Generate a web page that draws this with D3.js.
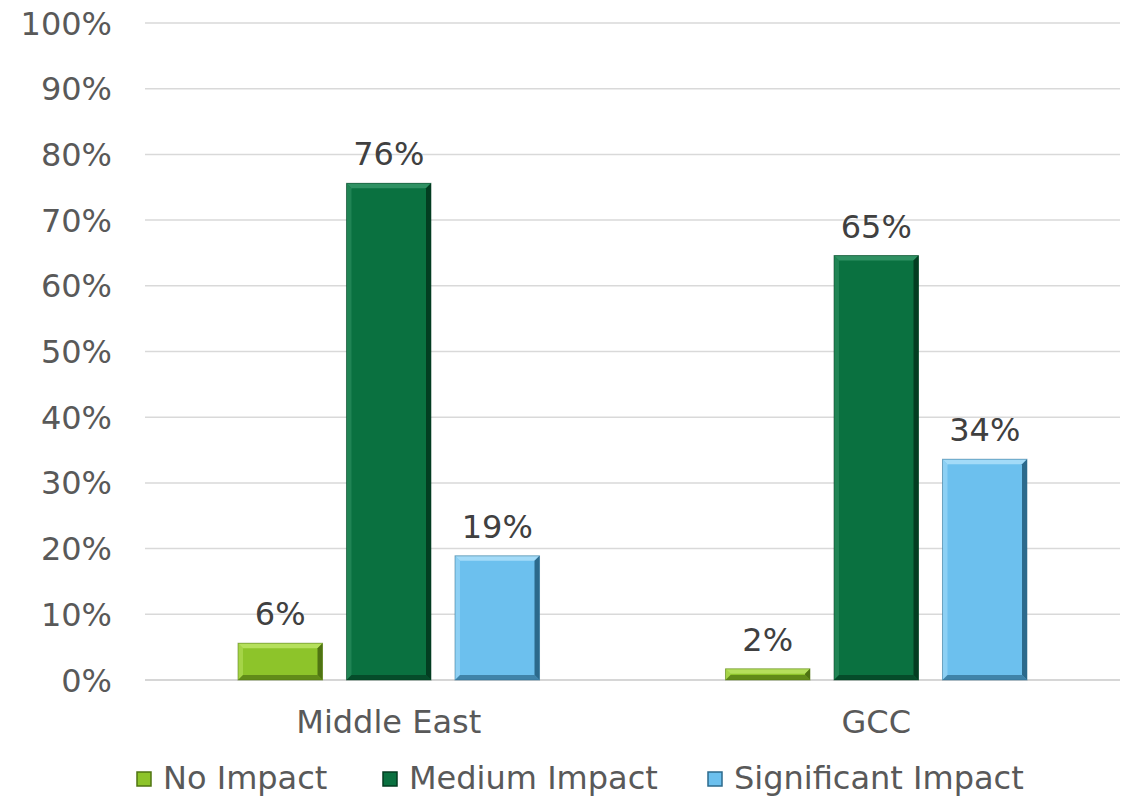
<!DOCTYPE html>
<html lang="en">
<head>
    <meta charset="UTF-8">
    <title>Impact by Region</title>
    <style>
        body {
            margin: 0;
            background-color: white;
        }
        svg {
            display: block;
            font-family: "DejaVu Sans", Verdana, sans-serif;
        }
    </style>
</head>
<body>
    <svg width="1132" height="797"></svg>
    <script src="https://d3js.org/d3.v7.min.js"></script>
    <script>
        const categories = ["Middle East", "GCC"];
        const seriesNames = ["No Impact", "Medium Impact", "Significant Impact"];
        const noImpact = [5.6, 1.7];
        const mediumImpact = [75.6, 64.6];
        const significantImpact = [18.9, 33.6];
        const yTicks = [0, 10, 20, 30, 40, 50, 60, 70, 80, 90, 100];

        const seriesValues = [noImpact, mediumImpact, significantImpact];
        const colors = ["#8dc42a", "#0a7140", "#6cc0ee"];
        const lightEdge = ["#b5e05c", "#2f9163", "#a3dbf8"];
        const darkEdge = ["#4f7412", "#033d21", "#2c6a8c"];

        const svg = d3.select("svg");
        const plotLeft = 145, plotRight = 1120, plotTop = 23, plotBottom = 680;

        const y = d3.scaleLinear().domain([0, 100]).range([plotBottom, plotTop]);
        const x0 = d3.scaleBand().domain(categories).range([plotLeft, plotRight])
            .paddingInner(0.3815).paddingOuter(0.19075);
        const x1 = d3.scaleBand().domain(seriesNames).range([0, x0.bandwidth()])
            .paddingInner(0.221).paddingOuter(0);

        // gridlines
        svg.append("g")
            .selectAll("line")
            .data(yTicks)
            .join("line")
            .attr("x1", plotLeft)
            .attr("x2", plotRight)
            .attr("y1", d => y(d))
            .attr("y2", d => y(d))
            .attr("stroke", d => d === 0 ? "#c8c8c8" : "#d9d9d9")
            .attr("stroke-width", 1.5);

        // y tick labels
        svg.append("g")
            .selectAll("text")
            .data(yTicks)
            .join("text")
            .attr("x", 112)
            .attr("y", d => y(d))
            .attr("dy", "0.36em")
            .attr("text-anchor", "end")
            .attr("fill", "#595959")
            .style("font-size", "32px")
            .text(d => d + "%");

        // bars
        const bars = [];
        categories.forEach((c, ci) => {
            seriesNames.forEach((s, si) => {
                bars.push({ cat: c, series: s, si: si, value: seriesValues[si][ci] });
            });
        });

        const bev = 5;
        svg.append("g")
            .selectAll("g")
            .data(bars)
            .join("g")
            .each(function (d) {
                const g = d3.select(this);
                const bx = x0(d.cat) + x1(d.series);
                const bw = x1.bandwidth();
                const by = y(d.value);
                const bh = y(0) - by;
                const b = Math.min(bev, bh / 2);
                g.append("rect")
                    .attr("x", bx).attr("y", by)
                    .attr("width", bw).attr("height", bh)
                    .attr("fill", colors[d.si]);
                // top bevel
                g.append("polygon")
                    .attr("points", [[bx, by], [bx + bw, by], [bx + bw - b, by + b], [bx + b, by + b]].join(" "))
                    .attr("fill", lightEdge[d.si]);
                // left bevel
                g.append("polygon")
                    .attr("points", [[bx, by], [bx + b, by + b], [bx + b, by + bh - b], [bx, by + bh]].join(" "))
                    .attr("fill", lightEdge[d.si]).attr("opacity", 0.6);
                // right bevel
                g.append("polygon")
                    .attr("points", [[bx + bw, by], [bx + bw, by + bh], [bx + bw - b, by + bh - b], [bx + bw - b, by + b]].join(" "))
                    .attr("fill", darkEdge[d.si]);
                // bottom bevel
                g.append("polygon")
                    .attr("points", [[bx, by + bh], [bx + bw, by + bh], [bx + bw - b, by + bh - b], [bx + b, by + bh - b]].join(" "))
                    .attr("fill", darkEdge[d.si]).attr("opacity", 0.7);
                g.append("rect")
                    .attr("x", bx).attr("y", by)
                    .attr("width", bw).attr("height", bh)
                    .attr("fill", "none")
                    .attr("stroke", darkEdge[d.si])
                    .attr("stroke-opacity", 0.5)
                    .attr("stroke-width", 1);
            });

        // data labels
        svg.append("g")
            .selectAll("text")
            .data(bars)
            .join("text")
            .attr("x", d => x0(d.cat) + x1(d.series) + x1.bandwidth() / 2)
            .attr("y", d => y(d.value) - 18)
            .attr("text-anchor", "middle")
            .attr("fill", "#404040")
            .style("font-size", "32px")
            .text(d => d3.format(".0f")(d.value) + "%");

        // category labels
        svg.append("g")
            .selectAll("text")
            .data(categories)
            .join("text")
            .attr("x", d => x0(d) + x0.bandwidth() / 2)
            .attr("y", 733)
            .attr("text-anchor", "middle")
            .attr("fill", "#595959")
            .style("font-size", "32px")
            .text(d => d);

        // legend
        const legendX = [137, 383, 708];
        const legend = svg.append("g")
            .selectAll("g")
            .data(seriesNames)
            .join("g")
            .attr("transform", (d, i) => `translate(${legendX[i]},772)`);
        legend.append("rect")
            .attr("width", 14).attr("height", 14)
            .attr("fill", (d, i) => colors[i])
            .attr("stroke", (d, i) => darkEdge[i])
            .attr("stroke-width", 1.5);
        legend.append("rect")
            .attr("x", 3).attr("y", 3)
            .attr("width", 8).attr("height", 8)
            .attr("fill", (d, i) => colors[i]);
        legend.append("text")
            .attr("x", 26)
            .attr("y", 17)
            .attr("fill", "#595959")
            .style("font-size", "32px")
            .text(d => d);
    </script>
</body>
</html>
